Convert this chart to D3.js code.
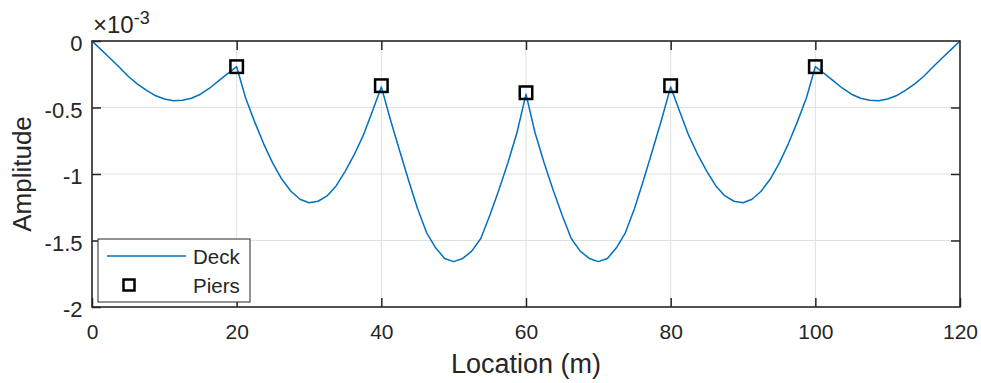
<!DOCTYPE html>
<html>
<head>
<meta charset="utf-8">
<script src="https://cdn.jsdelivr.net/npm/d3@7"></script>
<style>
  body { margin: 0; background: #fff; }
  svg text { font-family: "Liberation Sans", Arial, Helvetica, sans-serif; fill: #262626; }
</style>
</head>
<body>
<div id="chart"></div>
<script>
// amplitudes are in units of 1e-3
const deckStep = 1.25; // node spacing along the deck (m)
const deckAmp = [
  0, -0.065, -0.13, -0.195, -0.265, -0.322, -0.37, -0.41, -0.436, -0.449, -0.445, -0.43, -0.40, -0.355, -0.30, -0.245, -0.193,
  -0.43, -0.61, -0.775, -0.92, -1.04, -1.13, -1.19, -1.216, -1.205, -1.165, -1.09, -0.98, -0.855, -0.71, -0.53, -0.345,
  -0.59, -0.82, -1.045, -1.26, -1.44, -1.555, -1.635, -1.659, -1.635, -1.58, -1.485, -1.31, -1.12, -0.915, -0.69, -0.40,
  -0.69, -0.915, -1.12, -1.31, -1.485, -1.58, -1.635, -1.659, -1.635, -1.555, -1.44, -1.26, -1.045, -0.82, -0.59, -0.345,
  -0.53, -0.71, -0.855, -0.98, -1.09, -1.165, -1.205, -1.216, -1.19, -1.13, -1.04, -0.92, -0.775, -0.61, -0.43, -0.193,
  -0.245, -0.30, -0.355, -0.40, -0.43, -0.445, -0.449, -0.436, -0.41, -0.37, -0.322, -0.265, -0.195, -0.13, -0.065, 0
];
const pierLoc = [20, 40, 60, 80, 100];
const pierAmp = [-0.193, -0.336, -0.389, -0.336, -0.193];
const xTicks = [0, 20, 40, 60, 80, 100, 120];
const yTicks = [0, -0.5, -1, -1.5, -2];
const yTickLabels = ['0', '-0.5', '-1', '-1.5', '-2'];

const width = 981;
const height = 383;
const margin = { left: 92, top: 41, right: 21, bottom: 76 };
const tickLen = 9;
const ink = '#262626';

const deck = deckAmp.map((a, i) => ({ loc: i * deckStep, amp: a }));
const piers = pierLoc.map((l, i) => ({ loc: l, amp: pierAmp[i] }));

const svg = d3.select('#chart')
  .append('svg')
  .attr('width', width)
  .attr('height', height);

const x = d3.scaleLinear()
  .domain([0, 120])
  .range([margin.left, width - margin.right]);
const y = d3.scaleLinear()
  .domain([-2, 0])
  .range([height - margin.bottom, margin.top]);

const x0 = x.range()[0], x1 = x.range()[1];
const y0 = y.range()[0], y1 = y.range()[1];

// grid
const grid = svg.append('g')
  .attr('stroke', '#e0e0e0')
  .attr('stroke-width', 1);
grid.selectAll('line.gx')
  .data(xTicks.slice(1, -1))
  .enter().append('line')
    .attr('x1', d => x(d)).attr('x2', d => x(d))
    .attr('y1', y1).attr('y2', y0);
grid.selectAll('line.gy')
  .data(yTicks.slice(1, -1))
  .enter().append('line')
    .attr('x1', x0).attr('x2', x1)
    .attr('y1', d => y(d)).attr('y2', d => y(d));

// deck line
const line = d3.line()
  .x(d => x(d.loc))
  .y(d => y(d.amp));

svg.append('path')
  .datum(deck)
  .attr('fill', 'none')
  .attr('stroke', '#0072BD')
  .attr('stroke-width', 1.5)
  .attr('stroke-linejoin', 'round')
  .attr('d', line);

// piers
const sq = 12.5;
svg.append('g')
  .selectAll('rect')
  .data(piers)
  .enter().append('rect')
    .attr('x', d => x(d.loc) - sq / 2)
    .attr('y', d => y(d.amp) - sq / 2)
    .attr('width', sq)
    .attr('height', sq)
    .attr('fill', 'none')
    .attr('stroke', '#000')
    .attr('stroke-width', 2.5);

// axes
function styleAxis(size) {
  return g => {
    g.select('.domain').remove();
    g.selectAll('.tick line').attr('stroke', ink).attr('stroke-width', 1.5);
    g.selectAll('.tick text').attr('fill', ink).style('font-size', size + 'px');
  };
}

svg.append('g')
  .attr('transform', `translate(0,${y0})`)
  .call(d3.axisBottom(x).tickValues(xTicks).tickSizeInner(-tickLen).tickSizeOuter(0)
    .tickPadding(17).tickFormat(d3.format('d')))
  .call(styleAxis(21));

svg.append('g')
  .attr('transform', `translate(0,${y1})`)
  .call(d3.axisTop(x).tickValues(xTicks.slice(1, -1)).tickSizeInner(-tickLen).tickSizeOuter(0)
    .tickFormat(''))
  .call(styleAxis(21));

svg.append('g')
  .attr('transform', `translate(${x0},0)`)
  .call(d3.axisLeft(y).tickValues(yTicks).tickSizeInner(-tickLen).tickSizeOuter(0)
    .tickPadding(9.5).tickFormat((d, i) => yTickLabels[i]))
  .call(styleAxis(22))
  .selectAll('.tick text').attr('dy', '0.44em');

svg.append('g')
  .attr('transform', `translate(${x1},0)`)
  .call(d3.axisRight(y).tickValues(yTicks.slice(1, -1)).tickSizeInner(-tickLen).tickSizeOuter(0)
    .tickFormat(''))
  .call(styleAxis(21));

// box
svg.append('rect')
  .attr('x', x0).attr('y', y1)
  .attr('width', x1 - x0).attr('height', y0 - y1)
  .attr('fill', 'none')
  .attr('stroke', ink)
  .attr('stroke-width', 1.6);

// exponent label
const expo = svg.append('text')
  .attr('x', x0 + 1)
  .attr('y', 33)
  .style('font-size', '24px');
expo.append('tspan').text('\u00d710');
expo.append('tspan')
  .attr('dy', -9)
  .style('font-size', '18px')
  .text('-3');

// axis titles
svg.append('text')
  .attr('text-anchor', 'middle')
  .attr('x', (x0 + x1) / 2)
  .attr('y', 373)
  .style('font-size', '27px')
  .text('Location (m)');

svg.append('text')
  .attr('text-anchor', 'middle')
  .attr('transform', `translate(31,${(y0 + y1) / 2}) rotate(-90)`)
  .style('font-size', '26px')
  .text('Amplitude');

// legend
const legend = svg.append('g')
  .attr('transform', `translate(${x0 + 6},${y0 - 68})`);

legend.append('rect')
  .attr('width', 152)
  .attr('height', 63)
  .attr('fill', '#fff')
  .attr('stroke', ink)
  .attr('stroke-width', 1);

legend.append('line')
  .attr('x1', 9).attr('x2', 88)
  .attr('y1', 17).attr('y2', 17)
  .attr('stroke', '#0072BD')
  .attr('stroke-width', 1.5);

legend.append('rect')
  .attr('x', 31 - 5.5).attr('y', 46 - 5.5)
  .attr('width', 11).attr('height', 11)
  .attr('fill', 'none')
  .attr('stroke', '#000')
  .attr('stroke-width', 2.5);

legend.append('text')
  .attr('x', 95).attr('y', 25)
  .style('font-size', '20.5px')
  .text('Deck');

legend.append('text')
  .attr('x', 95).attr('y', 54)
  .style('font-size', '20.5px')
  .text('Piers');
</script>
</body>
</html>
